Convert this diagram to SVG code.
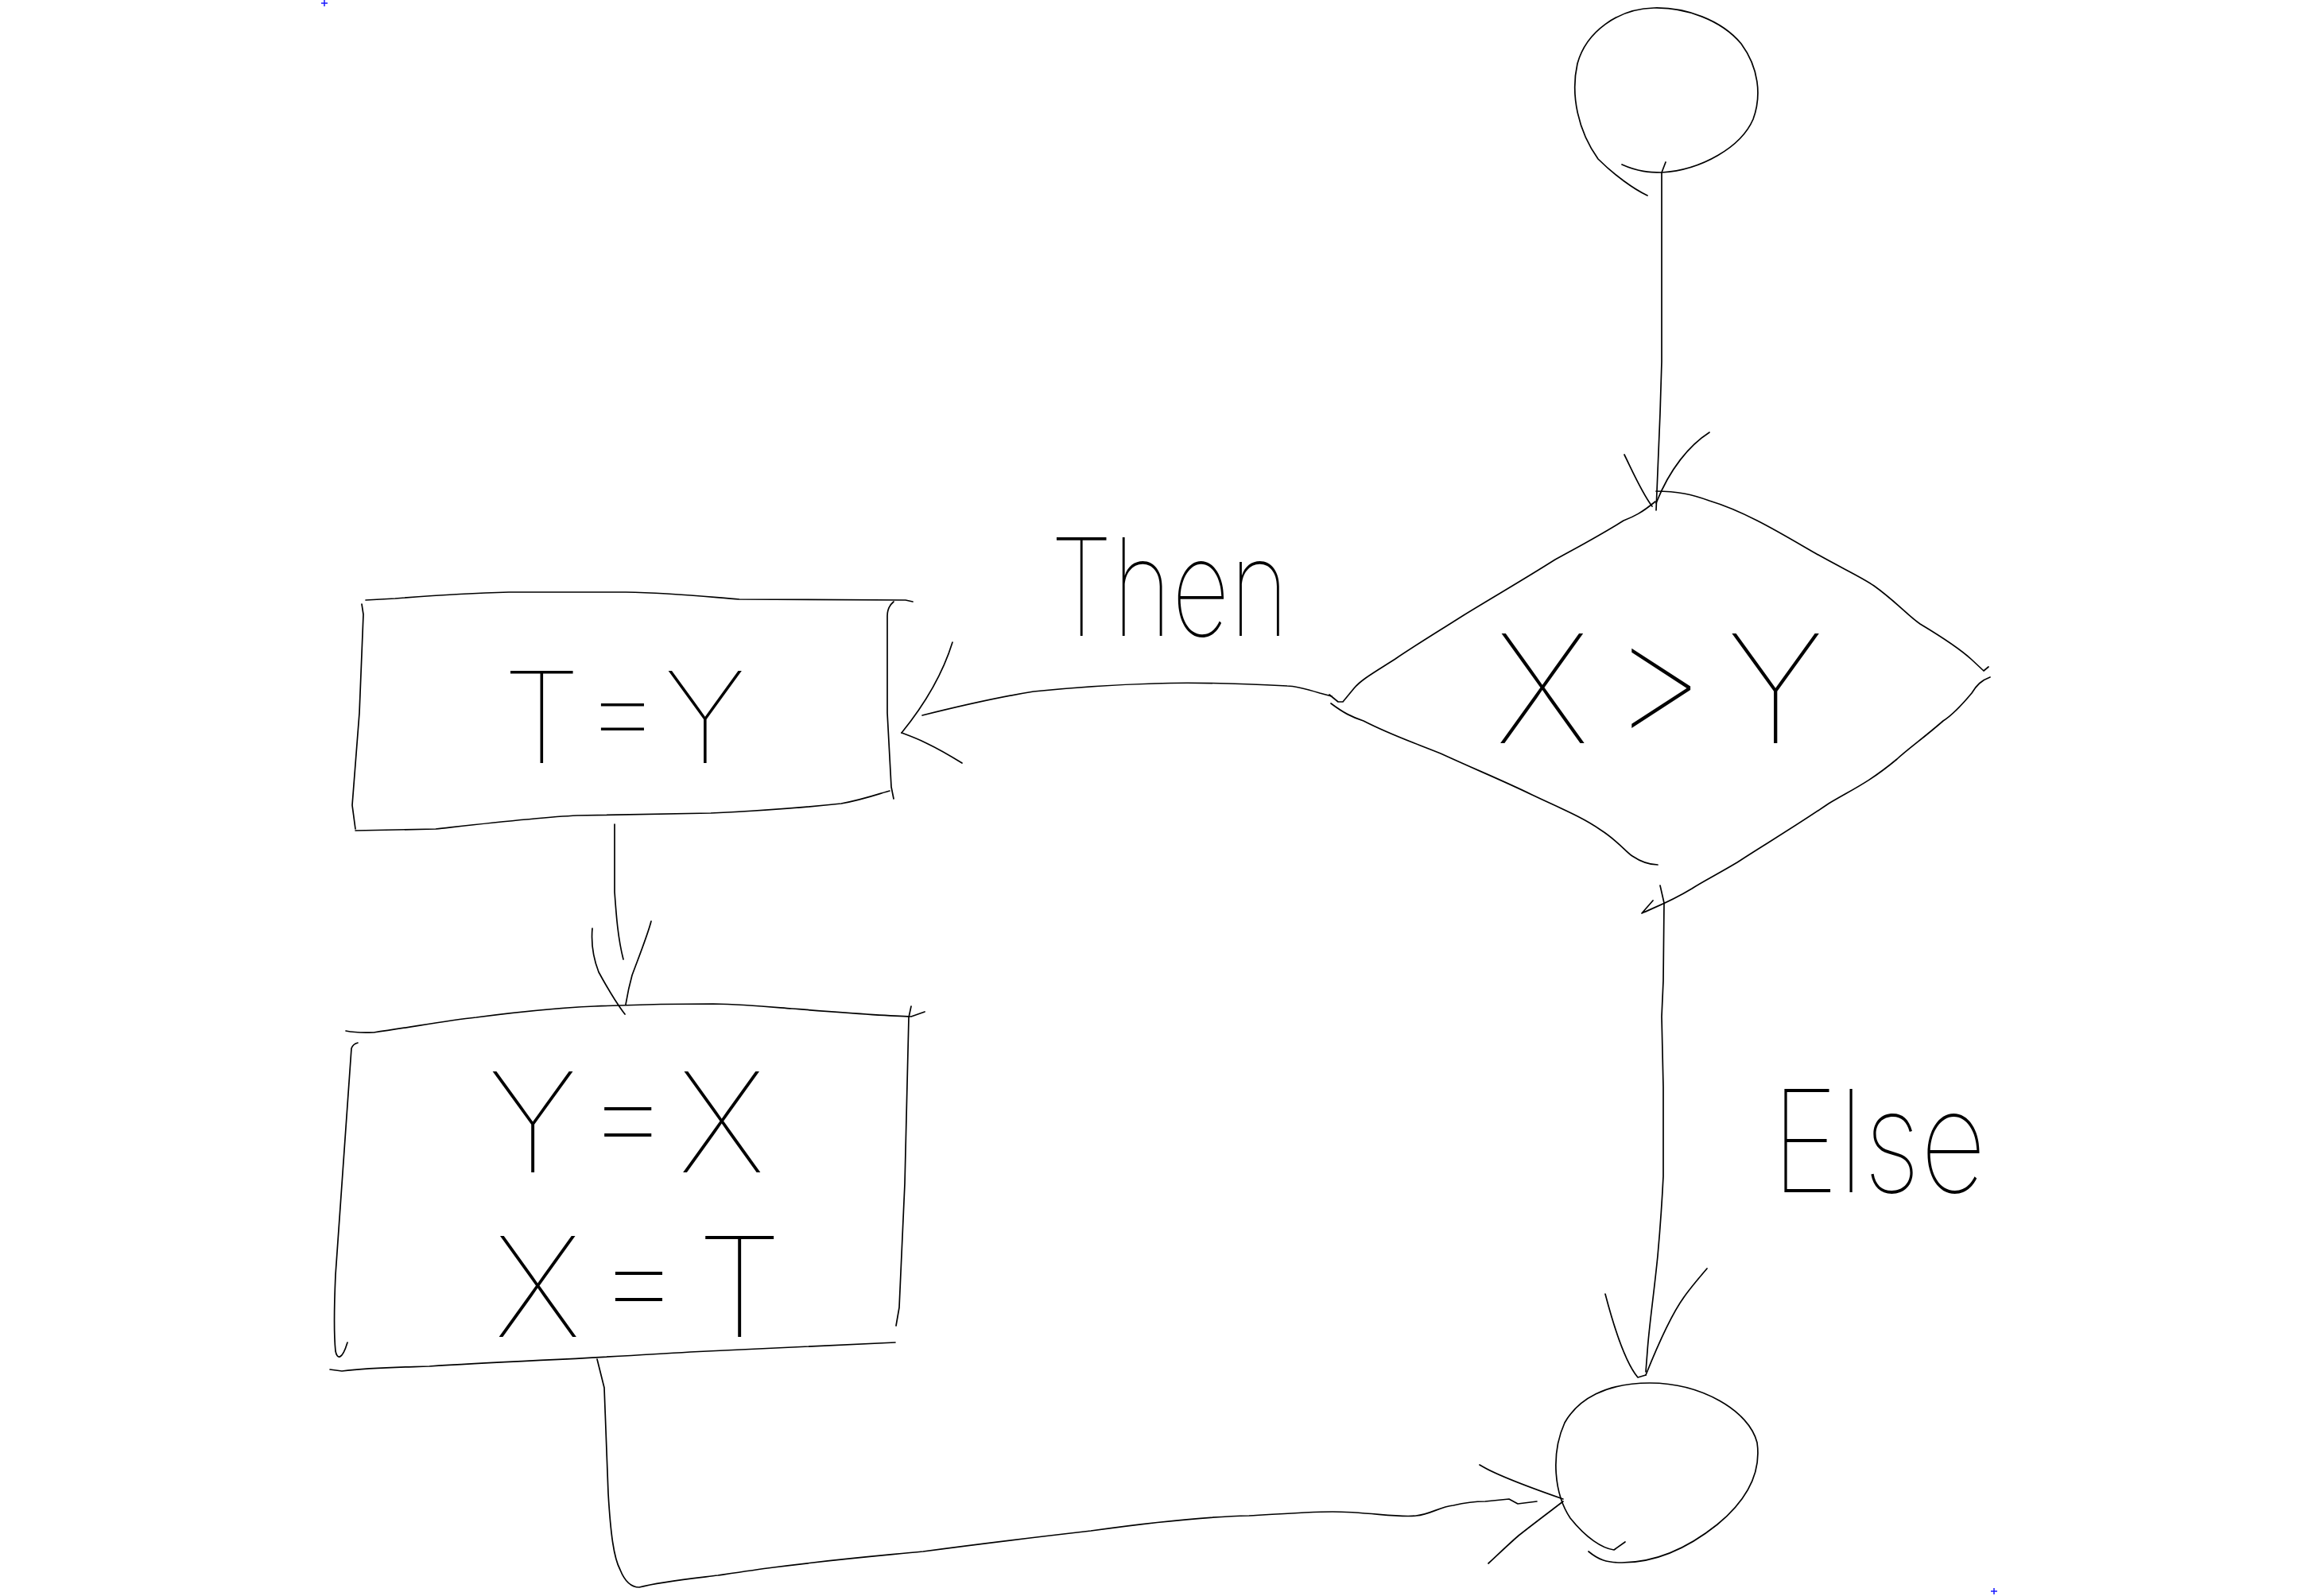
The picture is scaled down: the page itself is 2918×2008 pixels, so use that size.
<svg xmlns="http://www.w3.org/2000/svg" width="2918" height="2008" viewBox="0 0 2918 2008">
<style>
.s{fill:none;stroke:#000;stroke-width:1.7;stroke-linecap:round;stroke-linejoin:round}
.t{font-family:"Inter","Liberation Sans",sans-serif;font-weight:100;fill:#000}
.mark{fill:none;stroke:#1a1aff;stroke-width:1.5}
</style>
<rect width="2918" height="2008" fill="#fff"/>
<path class="mark" d="M404,4 H412 M408,0 V8"/>
<path class="mark" d="M2504,2002 H2512 M2508,1998 V2006"/>

<g id="node-start">
<path class="s" d="M2040,207 C2060,216 2075,217 2090,217 C2140,214 2190,185 2205,150 C2216,120 2212,85 2190,55 C2165,25 2120,9 2080,10 C2035,11 1995,40 1984,80 C1975,120 1985,165 2010,200 C2030,220 2055,238 2072,246"/>
</g>

<g id="node-decision">
<path class="s" d="M2083,618 C2110,618 2128,622 2150,630 C2190,642 2230,665 2271,689 C2310,712 2340,725 2357,737 C2385,757 2400,775 2415,785 C2440,800 2467,818 2480,830 L2495,844 L2501,839"/>
<path class="s" d="M2503,852 C2492,856 2486,862 2480,872 C2465,890 2455,900 2444,907 C2420,928 2400,942 2386,955 C2350,985 2330,993 2300,1011 C2250,1045 2215,1065 2185,1085 C2160,1100 2140,1110 2128,1118 C2100,1135 2080,1142 2065,1149 L2079,1133"/>
<path class="s" d="M2082,631 C2065,645 2055,650 2042,655 C2010,675 1985,688 1956,704 C1915,730 1880,750 1841,774 C1800,800 1780,812 1755,829 C1730,845 1712,855 1703,866 L1689,883 L1683,883 L1672,874"/>
<path class="s" d="M1674,885 C1690,897 1700,902 1715,907 C1750,925 1780,935 1812,948 C1860,970 1890,982 1927,1000 C1965,1018 1990,1028 2013,1044 C2035,1058 2045,1072 2053,1077 C2065,1085 2075,1088 2085,1088"/>
<text class="t" x="1881" y="935" font-size="190" textLength="413" lengthAdjust="spacing">X &gt; Y</text>
</g>

<g id="node-then-box">
<path class="s" d="M460,755 L497,753 C560,748 600,746 640,745 L787,745 C850,746 900,752 930,754 L1139,755 L1148,757"/>
<path class="s" d="M455,760 L457,773 L452,897 L443,1013 L447,1043"/>
<path class="s" d="M447,1045 L548,1043 C620,1035 680,1028 726,1026 L894,1023 C960,1020 1020,1015 1058,1011 C1090,1005 1110,997 1119,995"/>
<path class="s" d="M1124,757 C1118,762 1116,768 1116,775 L1116,897 L1121,990 L1124,1005"/>
<text class="t" x="632" y="960" font-size="160" textLength="306" lengthAdjust="spacing">T = Y</text>
</g>

<g id="node-swap-box">
<path class="s" d="M435,1297 C450,1300 460,1299 470,1299 C520,1292 560,1284 599,1280 C660,1272 700,1268 748,1266 C800,1264 850,1263 897,1263 C940,1264 970,1267 996,1269 C1060,1274 1110,1278 1146,1279 L1163,1273"/>
<path class="s" d="M1146,1266 L1143,1280 L1138,1489 L1131,1645 L1127,1668"/>
<path class="s" d="M450,1312 C446,1313 443,1316 442,1319 L422,1604 C420,1650 420,1680 422,1700 C424,1710 430,1712 437,1689"/>
<path class="s" d="M415,1723 L430,1725 C470,1720 510,1720 540,1719 C640,1713 760,1708 868,1701 C960,1696 1050,1692 1126,1689"/>
<text class="t" x="614" y="1475" font-size="175" textLength="348" lengthAdjust="spacing">Y = X</text>
<text class="t" x="622" y="1682" font-size="175" textLength="362" lengthAdjust="spacing">X = T</text>
</g>

<g id="node-end">
<path class="s" d="M1998,1952 C2010,1962 2020,1966 2040,1966 C2080,1966 2120,1950 2160,1918 C2200,1885 2215,1850 2210,1815 C2200,1775 2140,1740 2075,1740 C2020,1740 1985,1760 1968,1790 C1950,1830 1955,1880 1975,1910 C1995,1935 2015,1948 2030,1950 L2044,1940"/>
</g>

<g id="connectors">
<path class="s" d="M2095,204 L2090,217 L2090,369 L2090,455 L2088,520 L2083,642"/>
<path class="s" d="M2043,572 C2052,590 2065,620 2078,637"/>
<path class="s" d="M2150,544 C2125,560 2100,590 2083,633"/>

<path class="s" d="M1675,876 L1660,872 C1640,866 1625,863 1619,863 C1560,860 1500,858 1452,860 C1380,862 1320,868 1300,870 C1250,878 1200,890 1160,900"/>
<path class="s" d="M1198,808 C1185,850 1160,890 1134,922"/>
<path class="s" d="M1134,922 C1150,928 1170,935 1210,960"/>
<text class="t" x="1321" y="800" font-size="170" textLength="300" lengthAdjust="spacingAndGlyphs">Then</text>

<path class="s" d="M773,1037 L773,1122 C775,1150 777,1180 784,1207"/>
<path class="s" d="M745,1168 C743,1190 748,1210 753,1223 C765,1245 775,1262 786,1276"/>
<path class="s" d="M819,1159 C815,1175 805,1200 795,1227 C790,1245 788,1258 787,1264"/>

<path class="s" d="M751,1710 L760,1746 L765,1879 C768,1930 772,1960 780,1975 C786,1990 795,1997 804,1997 C830,1990 870,1986 903,1982 C930,1978 950,1975 973,1972 C1050,1962 1100,1958 1161,1952 C1250,1940 1320,1932 1372,1926 C1450,1915 1520,1908 1571,1907 C1620,1904 1650,1902 1676,1902 C1720,1902 1760,1910 1781,1907 C1800,1905 1810,1896 1828,1894 C1845,1890 1855,1889 1868,1889 L1898,1886 L1909,1892 L1933,1889"/>
<path class="s" d="M1861,1843 C1880,1855 1920,1870 1966,1886"/>
<path class="s" d="M1966,1889 C1945,1905 1925,1920 1910,1932 C1895,1945 1882,1958 1872,1967"/>

<path class="s" d="M2088,1114 L2093,1136 L2092,1234 L2090,1279 L2092,1368 L2092,1480 C2090,1520 2088,1547 2085,1580 C2080,1630 2074,1670 2072,1700 L2070,1726"/>
<path class="s" d="M2019,1628 C2030,1670 2045,1715 2060,1733 L2070,1730"/>
<path class="s" d="M2147,1596 C2135,1610 2125,1622 2118,1632 C2105,1650 2090,1680 2070,1730"/>
<text class="t" x="2228" y="1500" font-size="178" textLength="270" lengthAdjust="spacingAndGlyphs">Else</text>
</g>
</svg>
